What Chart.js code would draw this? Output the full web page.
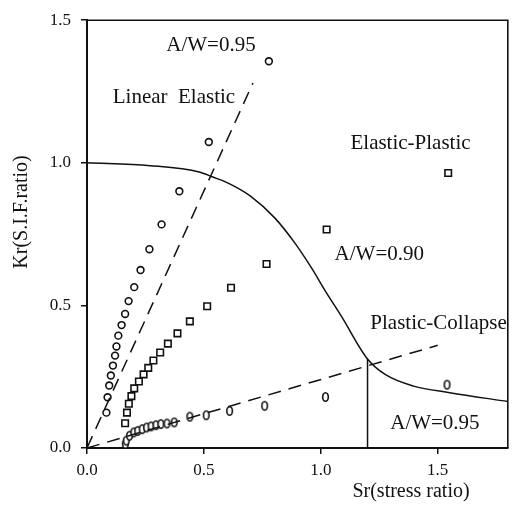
<!DOCTYPE html>
<html>
<head>
<meta charset="utf-8">
<title>Failure assessment diagram</title>
<script src="https://cdn.jsdelivr.net/npm/chart.js@4"></script>
<style>
  html, body { margin: 0; background: #fff; }
  #wrap { width: 514px; height: 506px; }
</style>
</head>
<body>
<div id="wrap"><canvas id="fad" width="514" height="506"></canvas></div>
<script>
const xTicks = [0, 0.5, 1.0, 1.5]
const yTicks = [0, 0.5, 1.0, 1.5]

// A/W = 0.95, linear elastic results (circles)
const circleSr = [0.083, 0.088, 0.095, 0.102, 0.111, 0.12, 0.126, 0.134, 0.148, 0.163, 0.178, 0.202, 0.229, 0.267, 0.319, 0.395, 0.521, 0.778]
const circleKr = [0.124, 0.178, 0.219, 0.254, 0.289, 0.324, 0.356, 0.394, 0.431, 0.47, 0.515, 0.564, 0.624, 0.697, 0.784, 0.9, 1.073, 1.356]

// A/W = 0.90, elastic-plastic results (squares)
const squareSr = [0.163, 0.171, 0.179, 0.19, 0.202, 0.222, 0.242, 0.262, 0.284, 0.313, 0.346, 0.387, 0.44, 0.514, 0.616, 0.768, 1.025, 1.545]
const squareKr = [0.087, 0.124, 0.155, 0.182, 0.209, 0.233, 0.258, 0.281, 0.307, 0.335, 0.366, 0.402, 0.444, 0.497, 0.562, 0.645, 0.766, 0.964]

// A/W = 0.95, plastic collapse results (diamonds)
const diamondSr = [0.164, 0.168, 0.182, 0.2, 0.217, 0.236, 0.255, 0.274, 0.295, 0.316, 0.342, 0.373, 0.44, 0.51, 0.61, 0.76, 1.02, 1.54]
const diamondKr = [0.014, 0.026, 0.043, 0.055, 0.06, 0.066, 0.072, 0.076, 0.08, 0.084, 0.086, 0.09, 0.11, 0.115, 0.13, 0.148, 0.179, 0.222]

// failure assessment curve
const curveSr = [0, 0.27, 0.48, 0.535, 0.606, 0.698, 0.804, 0.888, 0.959, 1.023, 1.086, 1.2, 1.277, 1.397, 1.552, 1.8]
const curveKr = [1.0, 0.99, 0.968, 0.951, 0.928, 0.884, 0.806, 0.72, 0.633, 0.546, 0.465, 0.312, 0.257, 0.217, 0.194, 0.163]

// loading lines
const elasticLineSr = [0, 0.71]
const elasticLineKr = [0, 1.28]
const collapseLineSr = [0, 1.5]
const collapseLineKr = [0, 0.36]

// Sr cut-off
const cutoffSr = [1.2, 1.2]
const cutoffKr = [0, 0.312]

const notes = [
  { text: 'A/W=0.95', x: 0.339, y: 1.413 },
  { text: 'Linear  Elastic', x: 0.11, y: 1.229 },
  { text: 'Elastic-Plastic', x: 1.127, y: 1.067 },
  { text: 'A/W=0.90', x: 1.059, y: 0.678 },
  { text: 'Plastic-Collapse', x: 1.212, y: 0.435 },
  { text: 'A/W=0.95', x: 1.297, y: 0.085 }
]

const serif = "'Liberation Serif', 'Times New Roman', serif"
const ink = '#111'

const pairs = (xs, ys) => xs.map((x, i) => ({ x, y: ys[i] }))

// narrow oval marker for the collapse series
const oval = document.createElement('canvas')
oval.width = 9
oval.height = 12
{
  const c = oval.getContext('2d')
  c.strokeStyle = ink
  c.fillStyle = '#fff'
  c.lineWidth = 1.6
  c.beginPath()
  c.ellipse(4.5, 6, 2.8, 4.3, 0, 0, Math.PI * 2)
  c.fill()
  c.stroke()
}

const framePlugin = {
  id: 'frame',
  afterDraw (chart) {
    const { ctx, chartArea: a, scales } = chart
    ctx.save()
    ctx.strokeStyle = ink
    ctx.lineWidth = 1.6
    ctx.beginPath()
    ctx.moveTo(a.left, a.top)
    ctx.lineTo(a.right, a.top)
    ctx.lineTo(a.right, a.bottom)
    ctx.stroke()

    // notes sit in data space, clipped to the plot box
    ctx.beginPath()
    ctx.rect(a.left, a.top, a.right - a.left, a.bottom - a.top)
    ctx.clip()
    ctx.fillStyle = ink
    ctx.font = '21px ' + serif
    ctx.textAlign = 'left'
    ctx.textBaseline = 'middle'
    notes.forEach(n => {
      ctx.fillText(n.text, scales.x.getPixelForValue(n.x), scales.y.getPixelForValue(n.y))
    })
    ctx.restore()

    // axis titles
    ctx.save()
    ctx.fillStyle = ink
    ctx.font = '20px ' + serif
    ctx.textAlign = 'center'
    ctx.textBaseline = 'middle'
    ctx.fillText('Sr(stress ratio)', 411, 492)
    ctx.translate(22, 212)
    ctx.rotate(-Math.PI / 2)
    ctx.fillText('Kr(S.I.F.ratio)', 0, 0)
    ctx.restore()
  }
}

const axisStyle = {
  type: 'linear',
  min: 0,
  grid: {
    drawOnChartArea: false,
    drawTicks: true,
    tickLength: 6,
    color: ink,
    lineWidth: 1.5
  },
  border: { display: true, color: ink, width: 2 },
  ticks: {
    color: ink,
    font: { family: serif, size: 17 },
    callback: v => v.toFixed(1)
  }
}

new Chart(document.getElementById('fad').getContext('2d'), {
  type: 'scatter',
  data: {
    datasets: [
      {
        label: 'FAD',
        data: pairs(curveSr, curveKr),
        showLine: true,
        cubicInterpolationMode: 'monotone',
        borderColor: ink,
        borderWidth: 1.5,
        pointRadius: 0
      },
      {
        label: 'Sr cut-off',
        data: pairs(cutoffSr, cutoffKr),
        showLine: true,
        borderColor: ink,
        borderWidth: 1.5,
        pointRadius: 0
      },
      {
        label: 'Linear Elastic line',
        data: pairs(elasticLineSr, elasticLineKr),
        showLine: true,
        borderColor: ink,
        borderWidth: 1.5,
        borderDash: [13, 8],
        pointRadius: 0
      },
      {
        label: 'Plastic-Collapse line',
        data: pairs(collapseLineSr, collapseLineKr),
        showLine: true,
        borderColor: ink,
        borderWidth: 1.5,
        borderDash: [13, 8],
        pointRadius: 0
      },
      {
        label: 'A/W=0.95 LE',
        data: pairs(circleSr, circleKr),
        pointStyle: 'circle',
        pointRadius: 3.4,
        borderWidth: 1.6,
        borderColor: ink,
        backgroundColor: '#fff'
      },
      {
        label: 'A/W=0.90',
        data: pairs(squareSr, squareKr),
        pointStyle: 'rect',
        pointRadius: 4.6,
        borderWidth: 1.6,
        borderColor: ink,
        backgroundColor: '#fff'
      },
      {
        label: 'A/W=0.95 PC',
        data: pairs(diamondSr, diamondKr),
        pointStyle: oval
      }
    ]
  },
  options: {
    responsive: false,
    devicePixelRatio: 1,
    animation: false,
    layout: { padding: { top: 15, right: 2, left: 0, bottom: 0 } },
    plugins: {
      legend: { display: false },
      tooltip: { enabled: false }
    },
    scales: {
      x: {
        ...axisStyle,
        max: 1.8,
        ticks: { ...axisStyle.ticks, padding: 6, maxRotation: 0 },
        afterBuildTicks: scale => { scale.ticks = xTicks.map(value => ({ value })) },
        afterFit: scale => { scale.height = 58 }
      },
      y: {
        ...axisStyle,
        max: 1.5,
        ticks: { ...axisStyle.ticks, padding: 10 },
        afterBuildTicks: scale => { scale.ticks = yTicks.map(value => ({ value })) },
        afterFit: scale => { scale.width = 87 }
      }
    }
  },
  plugins: [framePlugin]
})
</script>
</body>
</html>
